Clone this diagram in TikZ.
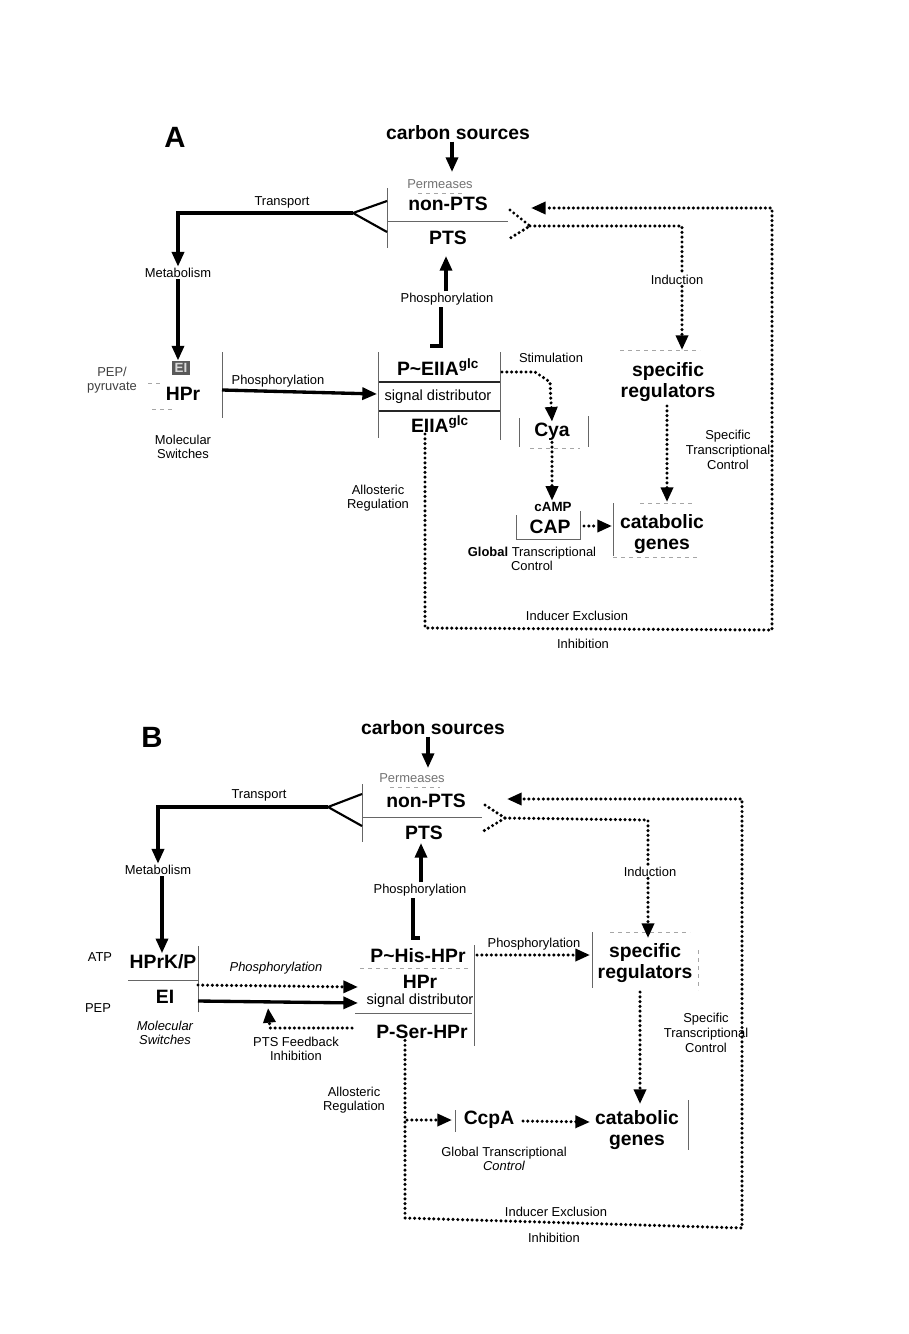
\documentclass[tikz,border=0pt]{standalone}
\usepackage{fontspec}
\setmainfont{Liberation Sans}
\usetikzlibrary{arrows.meta}
\begin{document}
\begin{tikzpicture}[x=0.75pt,y=-0.75pt,
  lbl/.style={font=\fontsize{9.7}{11}\selectfont, inner sep=1pt, align=center},
  sdlbl/.style={font=\fontsize{11}{12}\selectfont, inner sep=1pt, align=center},
  biglbl/.style={font=\fontsize{14.5}{16}\selectfont\bfseries, inner sep=1pt, align=center},
  boldsm/.style={font=\fontsize{10}{11}\selectfont\bfseries, inner sep=1pt, align=center},
  titlelbl/.style={font=\fontsize{22}{22}\selectfont\bfseries, inner sep=0pt},
  boxline/.style={line width=0.7pt, draw=black!60},
  sepline/.style={line width=1.3pt, draw=black!85},
  faint/.style={line width=0.6pt, draw=black!35, dashed},
  solidarr/.style={line width=2.5pt, -{Triangle[length=11pt,width=9pt]}},
  solidln/.style={line width=2.5pt},
  dotln/.style={line width=2.6pt, dash pattern=on 0pt off 3.6pt, line cap=round},
  dotarr/.style={dotln, -{Triangle[length=11pt,width=9pt]}},
  forkln/.style={line width=1.6pt},
]
\path[use as bounding box] (0,0) rectangle (908,1334);
\fill[white] (0,0) rectangle (908,1334);

% ================= Panel A =================
\node[titlelbl] (tA) at (175,137) {A};
\node[biglbl] (csA) at (458,133) {carbon sources};
\node[lbl, text=black!55] (permA) at (440,184) {Permeases};
\node[biglbl] (npA) at (448,204) {non-PTS};
\node[biglbl] (ptsA) at (448,238) {PTS};
\draw[boxline] (387,221) -- (508,221);
\draw[faint] (418,193) -- (466,193);
\draw[boxline] (387,188) -- (387,248);
\coordinate (csAin) at (452,172);
\draw[solidarr] (csA.south -| csAin) -- (csAin);

% transport fork
\coordinate (forkA) at (353,213);
\coordinate (forkAt) at (387,201);
\coordinate (forkAb) at (387,232);
\coordinate (cornA) at (178,213);
\draw[forkln] (forkAt) -- (forkA) -- (forkAb);
\node[lbl] (trA) at (282,202) {Transport};
\node[lbl] (metA) at (178,273) {Metabolism};
\draw[solidarr] (forkA) -- (cornA) -- (metA.north);

% molecular switches
\node[boldsm, fill=black!65, text=white!85!black, inner sep=2pt] (eiA) at (181,368) {EI};
\node[biglbl] (hprA) at (183,394) {HPr};
\draw[solidarr] (metA.south) -- (eiA.north -| metA.south);
\node[lbl, text=black!75] (pepA) at (112,380) {PEP/\\pyruvate};
\draw[faint] (148,383) -- (163,383);
\draw[faint] (152,409) -- (172,409);
\node[lbl] (msA) at (183,447) {Molecular\\Switches};
\draw[boxline] (222,352) -- (222,418);

% signal distributor A
\node[biglbl] (peiiaA) at (438,367) {P\textasciitilde EIIA\textsuperscript{glc}};
\node[sdlbl] (sdA) at (438,397) {signal distributor};
\node[biglbl] (eiiaA) at (440,424) {EIIA\textsuperscript{glc}};
\draw[sepline] (378,382) -- (500,382);
\draw[sepline] (378,411) -- (500,411);
\draw[boxline] (378,352) -- (378,438);
\draw[boxline] (500,352) -- (500,440);
\coordinate (phAs) at (222,390);
\coordinate (phAe) at (377,394);
\draw[solidarr] (phAs) -- (phAe);
\node[lbl] (phlA) at (278,381) {Phosphorylation};

% phosphorylation up A
\node[lbl] (phupA) at (447,299) {Phosphorylation};
\coordinate (brA) at (441,346);
\draw[solidln] (430,346) -- (brA) -- (brA |- phupA.south);
\coordinate (ptsAin) at (446,256);
\draw[solidarr] (phupA.north -| ptsAin) -- (ptsAin);

% stimulation / Cya / CAP
\node[lbl] (stA) at (551,358) {Stimulation};
\node[biglbl] (cyaA) at (552,432) {Cya};
\draw[dotarr] (502,372) -- (535,372) -- (550,382) -- (cyaA.north);
\draw[boxline] (519,418) -- (519,447);
\draw[boxline] (588,416) -- (588,447);
\draw[faint] (530,448) -- (580,448);
\node[boldsm] (campA) at (553,507) {cAMP};
\node[biglbl] (capA) at (550,527) {CAP};
\draw[dotarr] (cyaA.south) -- (campA.north -| cyaA.south);
\draw[boxline] (516,515) -- (516,539) -- (580,539) -- (580,511);
\node[biglbl] (catA) at (662,534) {catabolic\\genes};
\coordinate (capAout) at (584,526);
\coordinate (catAin) at (612,526);
\draw[dotarr] (capAout) -- (catAin);
\draw[boxline] (613,503) -- (613,556);
\draw[faint] (640,503) -- (692,503);
\draw[faint] (613,557) -- (700,557);
\node[lbl] (gtcA) at (532,559) {\textbf{Global} Transcriptional\\Control};

% specific regulators A
\node[biglbl] (srA) at (668,382) {specific\\regulators};
\draw[faint] (620,350) -- (700,350);
\node[lbl] (indA) at (677,280) {Induction};
\coordinate (chevAt) at (510,210);
\coordinate (chevAr) at (530,226);
\coordinate (chevAb) at (507,240);
\draw[dotln] (chevAt) -- (chevAr) -- (chevAb);
\coordinate (indAc) at (682,226);
\draw[dotln] (chevAr) -- (indAc) -- (indAc |- indA.north);
\coordinate (srAin) at (682,350);
\draw[dotarr] (indA.south -| srAin) -- (srAin);
\coordinate (stcAs) at (667,406);
\coordinate (stcAe) at (667,502);
\draw[dotarr] (stcAs) -- (stcAe);
\node[lbl] (stcA) at (728,450) {Specific\\Transcriptional\\Control};

% inducer exclusion loop A
\coordinate (ieA1) at (425,628);
\coordinate (ieA2) at (772,630);
\coordinate (ieA3) at (772,208);
\coordinate (npAin) at (531,208);
\draw[dotarr] (eiiaA.south -| ieA1) -- (ieA1) -- (ieA2) -- (ieA3) -- (npAin);
\node[lbl] (iexA) at (577,616) {Inducer Exclusion};
\node[lbl] (inhA) at (583,644) {Inhibition};
\node[lbl] (alA) at (378,498) {Allosteric\\Regulation};

% ================= Panel B =================
\node[titlelbl] (tB) at (152,737) {B};
\node[biglbl] (csB) at (433,728) {carbon sources};
\node[lbl, text=black!55] (permB) at (412,778) {Permeases};
\node[biglbl] (npB) at (426,801) {non-PTS};
\node[biglbl] (ptsB) at (424,833) {PTS};
\draw[boxline] (362,817) -- (482,817);
\draw[faint] (390,787) -- (440,787);
\draw[boxline] (362,784) -- (362,842);
\coordinate (csBin) at (428,768);
\draw[solidarr] (csB.south -| csBin) -- (csBin);

\coordinate (forkB) at (328,807);
\coordinate (forkBt) at (362,794);
\coordinate (forkBb) at (362,826);
\coordinate (cornB) at (158,807);
\draw[forkln] (forkBt) -- (forkB) -- (forkBb);
\node[lbl] (trB) at (259,795) {Transport};
\node[lbl] (metB) at (158,870) {Metabolism};
\draw[solidarr] (forkB) -- (cornB) -- (metB.north);

\node[biglbl] (hpkB) at (163,962) {HPrK/P};
\node[biglbl] (eiB) at (165,997) {EI};
\draw[solidarr] (metB.south -| 162,0) -- (hpkB.north -| 162,0);
\node[lbl] (atpB) at (100,957) {ATP};
\node[lbl] (pepB) at (98,1008) {PEP};
\draw[boxline] (128,980) -- (198,980);
\draw[boxline] (198,946) -- (198,1012);
\node[lbl] (msB) at (165,1033) {\itshape Molecular\\\itshape Switches};

% signal distributor B
\node[biglbl] (phisB) at (418,956) {P\textasciitilde His-HPr};
\node[biglbl] (hprB) at (420,982) {HPr};
\node[sdlbl] (sdB) at (420,1001) {signal distributor};
\node[biglbl] (psB) at (422,1032) {P-Ser-HPr};
\draw[faint] (360,968) -- (470,968);
\draw[boxline] (355,1013) -- (472,1013);
\draw[boxline] (474,945) -- (474,1046);

\coordinate (phBs1) at (198,985);
\coordinate (phBe1) at (358,987);
\coordinate (phBs2) at (198,1001);
\coordinate (phBe2) at (358,1003);
\draw[dotarr] (phBs1) -- (phBe1);
\draw[solidarr] (phBs2) -- (phBe2);
\node[lbl] (phlB) at (276,968) {\itshape Phosphorylation};
\coordinate (fbB0) at (352,1028);
\coordinate (fbB1) at (270,1028);
\coordinate (fbB2) at (268,1008);
\draw[dotarr] (fbB0) -- (fbB1) -- (fbB2);
\node[lbl] (fbB) at (296,1049) {PTS Feedback\\Inhibition};

% phosphorylation up B
\node[lbl] (phupB) at (420,890) {Phosphorylation};
\coordinate (brB) at (413,938);
\draw[solidln] (420,938) -- (brB) -- (brB |- phupB.south);
\coordinate (ptsBin) at (421,843);
\draw[solidarr] (phupB.north -| ptsBin) -- (ptsBin);

% specific regulators B
\node[biglbl] (srB) at (645,963) {specific\\regulators};
\draw[boxline] (592,932) -- (592,988);
\draw[faint] (610,932) -- (690,932);
\draw[faint] (698,950) -- (698,990);
\coordinate (phrBs) at (477,955);
\coordinate (srBin) at (590,955);
\draw[dotarr] (phrBs) -- (srBin);
\node[lbl] (phrB) at (534,944) {Phosphorylation};

\node[lbl] (indB) at (650,872) {Induction};
\coordinate (chevBt) at (485,805);
\coordinate (chevBr) at (505,818);
\coordinate (chevBb) at (482,832);
\draw[dotln] (chevBt) -- (chevBr) -- (chevBb);
\coordinate (indBc) at (648,820);
\draw[dotln] (chevBr) -- (indBc) -- (indBc |- indB.north);
\coordinate (srBtop) at (648,938);
\draw[dotarr] (indB.south -| srBtop) -- (srBtop);

\node[biglbl] (catB) at (637,1130) {catabolic\\genes};
\draw[boxline] (688,1100) -- (688,1150);
\coordinate (stcBs) at (640,992);
\coordinate (stcBe) at (640,1104);
\draw[dotarr] (stcBs) -- (stcBe);
\node[lbl] (stcB) at (706,1033) {Specific\\Transcriptional\\Control};

\node[biglbl] (ccpB) at (489,1120) {CcpA};
\draw[boxline] (455,1110) -- (455,1132);
\coordinate (ccpBin) at (452,1120);
\coordinate (ccpBs) at (407,1120);
\draw[dotarr] (ccpBs) -- (ccpBin);
\coordinate (ccpBout) at (523,1121);
\coordinate (catBin) at (590,1122);
\draw[dotarr] (ccpBout) -- (catBin);
\node[lbl] (gtcB) at (504,1159) {Global Transcriptional\\\itshape Control};
\node[lbl] (alB) at (354,1100) {Allosteric\\Regulation};

% inducer exclusion loop B
\coordinate (ieB1) at (405,1218);
\coordinate (ieB2) at (742,1228);
\coordinate (ieB3) at (742,799);
\coordinate (npBin) at (507,799);
\draw[dotarr] (psB.south -| ieB1) -- (ieB1) -- (ieB2) -- (ieB3) -- (npBin);
\node[lbl] (iexB) at (556,1212) {Inducer Exclusion};
\node[lbl] (inhB) at (554,1238) {Inhibition};
\end{tikzpicture}
\end{document}
